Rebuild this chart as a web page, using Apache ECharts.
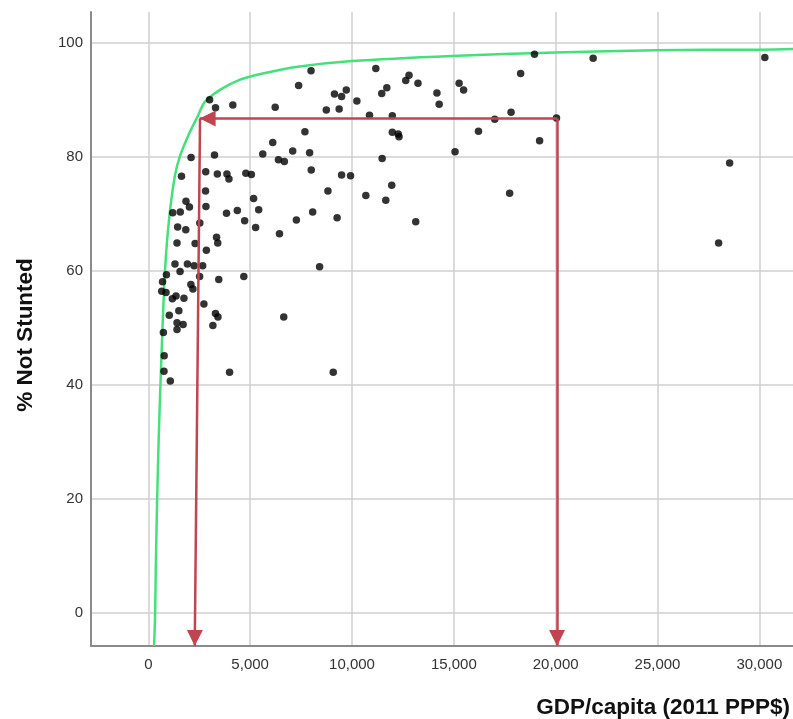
<!DOCTYPE html>
<html><head><meta charset="utf-8">
<script src="https://cdn.jsdelivr.net/npm/echarts@6/dist/echarts.min.js"></script>
<style>html,body{margin:0;padding:0;background:#fff}#c{width:793px;height:719px}</style>
</head><body><div id="c"></div><script>
// GDP per capita (2011 PPP$) and % Not Stunted
const gdp = [
30270,21840,28540,28000,20040,18960,
7990,7380,11170,12800,12640,13240,15260,15480,18280,9140,9490,9720,10240,8740,9370,11460,11710,14170,14280,10860,11980,17010,17810,16210,19210,11980,12270,12310,15060,7690,7090,7920,6390,6680,11480,8000,9490,9930,8820,11950,10680,11660,17740,8070,7270,9270,13130,6440,
8410,6650,9080,
3010,3300,4150,6230,2100,3250,6110,5620,1630,2820,3390,3860,3960,4790,5060,
1570,1200,1850,2020,2810,2830,3840,4370,5170,5420,4730,5270,2530,1440,1840,1410,2300,3350,3410,2850,
1310,1920,2250,2670,1560,890,2520,3460,4690,700,660,870,2090,2190,1360,1180,1750,2730,1500,1030,3300,3420,1410,1710,1410,3170,740,780,770,1080,3990
];
const notStunted = [
97.4,97.3,78.9,64.9,86.8,98.0,
95.1,92.5,95.5,94.3,93.4,92.9,92.9,91.7,94.6,91.0,90.6,91.7,89.8,88.2,88.4,91.1,92.1,91.2,89.2,87.3,87.2,86.6,87.8,84.5,82.8,84.3,84.0,83.5,80.9,84.4,81.0,80.7,79.5,79.2,79.7,77.7,76.8,76.7,74.0,75.0,73.2,72.4,73.6,70.3,68.9,69.3,68.6,66.5,
60.7,51.9,42.2,
90.0,88.6,89.1,88.7,79.9,80.3,82.5,80.5,76.6,77.4,77.0,77.0,76.1,77.1,76.9,
70.3,70.2,72.2,71.2,74.0,71.3,70.1,70.6,72.7,70.7,68.8,67.6,68.4,67.7,67.2,64.9,64.8,65.9,64.9,63.6,
61.2,61.2,60.9,60.9,59.9,59.3,59.0,58.5,59.0,58.1,56.4,56.2,57.6,56.8,55.6,55.1,55.2,54.2,53.0,52.2,52.5,51.9,50.9,50.6,49.7,50.4,49.2,45.1,42.4,40.7,42.2
];
// fitted curve
const fitGdp   = [284,333,367,431,514,597,695,822,1018,1297,1542,1997,2437,2765,3500,4478,5618,7330,10008,14902,19992,24935,29927,31700];
const fitValue = [-5.8,-0.5,7.7,19.4,31.0,40.1,49.7,60.2,69.0,76.5,80.0,84.0,87.2,89.6,91.7,93.5,94.6,95.8,96.8,97.7,98.3,98.7,98.8,98.9];
// arrows: [fromX, fromY, toX, toY]
const arrows = [
  [20070, 86.7, 2520, 86.7],
  [2540, 86.7, 2280, -5.8],
  [20070, 86.7, 20070, -5.8]
];
const xRange = [-2813, 31652];
const yRange = [-5.8, 105.4];

const FONT = '"Liberation Sans", Arial, sans-serif';
const RED = '#c0454f';
const chart = echarts.init(document.getElementById('c'), null, {renderer: 'canvas'});
const scatterData = gdp.map((g, i) => [g, notStunted[i]]);
const fitData = fitGdp.map((g, i) => [g, fitValue[i]]);
const arrowData = arrows.map(a => [
  {coord: [a[0], a[1]], symbol: 'none'},
  {coord: [a[2], a[3]], symbol: 'triangle', symbolSize: [16, 16], symbolOffset: [0, 8]}
]);

chart.setOption({
  animation: false,
  backgroundColor: '#fff',
  grid: {left: 91, right: 0, top: 12, bottom: 72, containLabel: false},
  xAxis: {
    type: 'value', min: xRange[0], max: xRange[1],
    name: 'GDP/capita (2011 PPP$)', nameLocation: 'end', nameGap: -3,
    nameTextStyle: {fontFamily: FONT, fontSize: 22.5, fontWeight: 'bold', color: '#111', align: 'right', verticalAlign: 'top', padding: [50, 0, 0, 0]},
    axisLine: {onZero: false, lineStyle: {color: '#8a8a8a', width: 2}},
    axisTick: {show: false},
    splitLine: {show: true, showMinLine: false, showMaxLine: false, lineStyle: {color: '#cfcfcf', width: 1.5}},
    axisLabel: {showMinLabel: false, showMaxLabel: false, margin: 11, fontFamily: FONT, fontSize: 15, color: '#333',
      formatter: v => v.toLocaleString('en-US')}
  },
  yAxis: {
    type: 'value', min: yRange[0], max: yRange[1],
    name: '% Not Stunted', nameLocation: 'middle', nameGap: 54, nameRotate: 90,
    nameTextStyle: {fontFamily: FONT, fontSize: 22.5, fontWeight: 'bold', color: '#111', padding: [0, 12, 0, 0]},
    axisLine: {onZero: false, lineStyle: {color: '#8a8a8a', width: 2}},
    axisTick: {show: false},
    splitLine: {show: true, showMinLine: false, showMaxLine: false, lineStyle: {color: '#cfcfcf', width: 1.5}},
    axisLabel: {showMinLabel: false, showMaxLabel: false, margin: 8, fontFamily: FONT, fontSize: 15, color: '#333'}
  },
  series: [
    {
      type: 'line', data: fitData, showSymbol: false, smooth: 0.25, z: 2,
      lineStyle: {color: '#45e07c', width: 2.5}, silent: true,
      markLine: {
        silent: true, animation: false,
        symbol: ['none', 'triangle'], symbolSize: 16,
        label: {show: false},
        lineStyle: {color: RED, width: 2.5, type: 'solid'},
        emphasis: {disabled: true},
        data: arrowData
      }
    },
    {
      type: 'scatter', data: scatterData, symbol: 'circle', symbolSize: 7.5, z: 3,
      itemStyle: {color: '#000'}, silent: true
    }
  ]
});
</script></body></html>
